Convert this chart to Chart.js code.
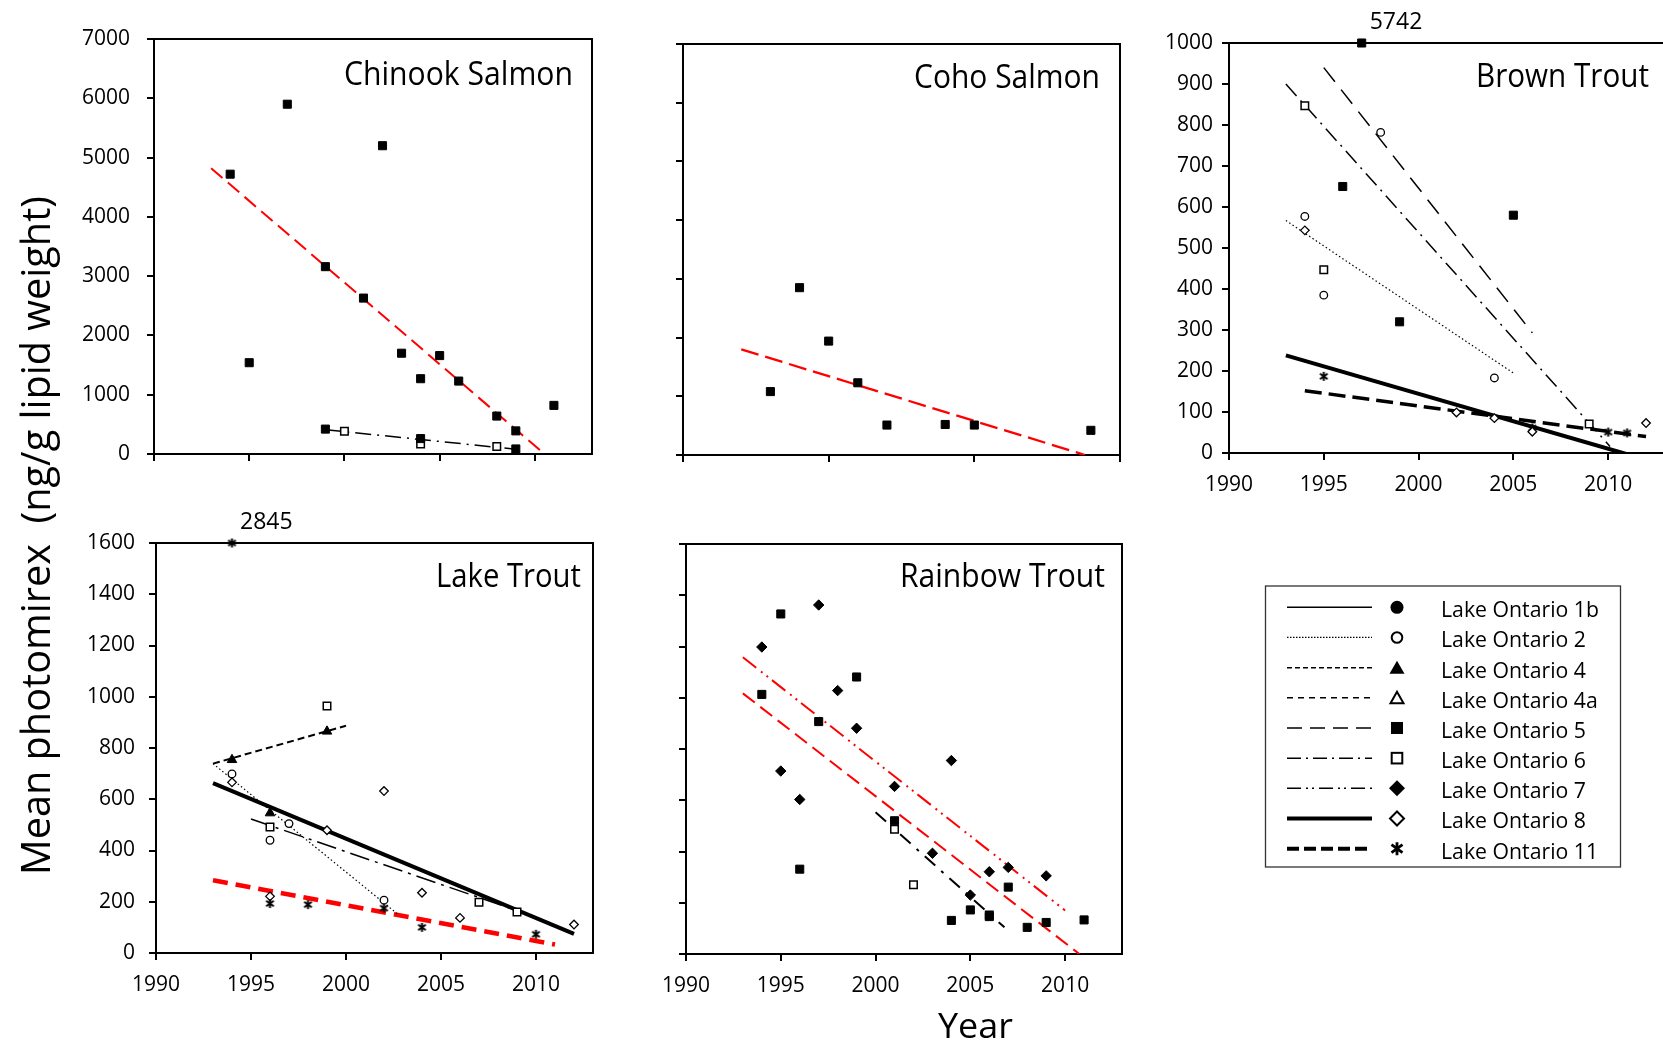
<!DOCTYPE html>
<html>
<head>
<meta charset="utf-8">
<title>Mean photomirex in Lake Ontario salmonids</title>
<script src="https://cdn.jsdelivr.net/npm/chart.js@4.4.1/dist/chart.umd.min.js"></script>
<style>
  html, body { margin: 0; padding: 0; background: #fff; }
  body { position: relative; width: 1663px; height: 1045px; overflow: hidden; }
  canvas.panel { position: absolute; z-index: 1; }
  #overlay { position: absolute; left: 0; top: 0; z-index: 2; pointer-events: none; }
</style>
</head>
<body>
<svg id="overlay" width="1663" height="1045" xmlns="http://www.w3.org/2000/svg"></svg>
<script>
const FONT = "'Open Sans', 'Noto Sans', sans-serif";

// ---- Chinook Salmon ----
const chinookYears5 = [1994, 1995, 1997, 1999, 2001, 2002, 2003, 2004, 2005, 2006, 2008, 2009, 2011];
const chinookVals5 = [4720, 1540, 5900, 3160, 2630, 5200, 1700, 1270, 1660, 1230, 640, 390, 820];
const chinookYears5b = [1999, 2004, 2009];
const chinookVals5b = [420, 260, 85];
const chinookYears6 = [2000, 2004, 2008];
const chinookVals6 = [385, 170, 125];
const chinookTrend5Years = [1993, 2010.5];
const chinookTrend5Vals = [4820, 0];
const chinookTrend6Years = [1999, 2009];
const chinookTrend6Vals = [410, 80];

// ---- Coho Salmon ----
const cohoYears5 = [1998, 1999, 2000, 2001, 2002, 2004, 2005, 2009];
const cohoVals5 = [1080, 2850, 1940, 1230, 510, 520, 510, 420];
const cohoTrend5Years = [1997, 2008.8];
const cohoTrend5Vals = [1800, 0];

// ---- Brown Trout ----
const brownYears5 = [1996, 1997, 1999, 2005];
const brownVals5 = [650, 5742, 320, 580];
const brownYears2 = [1994, 1995, 1998, 2004];
const brownVals2 = [577, 385, 782, 183];
const brownYears6 = [1994, 1995, 2009];
const brownVals6 = [847, 447, 71];
const brownYears8 = [1994, 2002, 2004, 2006, 2012];
const brownVals8 = [543, 99, 85, 52, 73];
const brownYears11 = [1995, 2006, 2010, 2011];
const brownVals11 = [187, 61, 51, 49];
const brownTrend5Years = [1995, 2006];
const brownTrend5Vals = [940, 293];
const brownTrend6Years = [1993, 2010.1];
const brownTrend6Vals = [900, 16];
const brownTrend2Years = [1993, 2005];
const brownTrend2Vals = [567, 195];
const brownTrend8Years = [1993, 2011];
const brownTrend8Vals = [238, -3];
const brownTrend11Years = [1994, 2012];
const brownTrend11Vals = [152, 40];

// ---- Lake Trout ----
const lakeYears11 = [1994, 1996, 1998, 2002, 2004, 2010];
const lakeVals11 = [2845, 193, 189, 175, 100, 73];
const lakeYears4 = [1994, 1996, 1999];
const lakeVals4 = [754, 546, 865];
const lakeYears2 = [1994, 1996, 1997, 2002];
const lakeVals2 = [699, 440, 505, 206];
const lakeYears6 = [1996, 1999, 2007, 2009];
const lakeVals6 = [492, 964, 198, 160];
const lakeYears8 = [1994, 1996, 1999, 2002, 2004, 2006, 2012];
const lakeVals8 = [666, 221, 479, 632, 235, 137, 111];
const lakeTrend4Years = [1993, 2000];
const lakeTrend4Vals = [739, 887];
const lakeTrend2Years = [1993, 2002.7];
const lakeTrend2Vals = [739, 153];
const lakeTrend6Years = [1995, 2010];
const lakeTrend6Vals = [523, 140];
const lakeTrend8Years = [1993, 2012];
const lakeTrend8Vals = [663, 75];
const lakeTrend11Years = [1993, 2011];
const lakeTrend11Vals = [284, 33];

// ---- Rainbow Trout ----
const rainbowYears5 = [1994, 1995, 1996, 1997, 1999, 2001, 2004, 2005, 2006, 2007, 2008, 2009, 2011];
const rainbowVals5 = [1013, 1327, 331, 907, 1081, 520, 131, 172, 146, 261, 104, 123, 133];
const rainbowYears7 = [1994, 1995, 1996, 1997, 1998, 1999, 2001, 2003, 2004, 2005, 2006, 2007, 2009];
const rainbowVals7 = [1198, 714, 603, 1362, 1028, 881, 654, 393, 755, 230, 321, 338, 305];
const rainbowYears6 = [2001, 2002, 2006];
const rainbowVals6 = [487, 270, 152];
const rainbowTrend5Years = [1993, 2010.75];
const rainbowTrend5Vals = [1017, 0];
const rainbowTrend7Years = [1993, 2010];
const rainbowTrend7Vals = [1158, 170];
const rainbowTrend6Years = [2000, 2006.8];
const rainbowTrend6Vals = [553, 104];

// ---- legend ----
const legendLabels = ['Lake Ontario 1b', 'Lake Ontario 2', 'Lake Ontario 4', 'Lake Ontario 4a',
  'Lake Ontario 5', 'Lake Ontario 6', 'Lake Ontario 7', 'Lake Ontario 8', 'Lake Ontario 11'];

// ---------- styles ----------
function asteriskCanvas(size, lw) {
  const c = document.createElement('canvas');
  c.width = size; c.height = size;
  const g = c.getContext('2d');
  const m = size / 2, a = size / 2 - 1;
  g.strokeStyle = '#000'; g.lineWidth = lw;
  g.beginPath();
  g.moveTo(m, m - a); g.lineTo(m, m + a);
  g.moveTo(m - a * 0.85, m - a * 0.6); g.lineTo(m + a * 0.85, m + a * 0.6);
  g.moveTo(m + a * 0.85, m - a * 0.6); g.lineTo(m - a * 0.85, m + a * 0.6);
  g.stroke();
  return c;
}
const astImg = asteriskCanvas(11, 2);

const MARKS = {
  sqF: { pointStyle: 'rect', pointRadius: 5.7, pointBackgroundColor: '#000', pointBorderColor: '#000', pointBorderWidth: 1 },
  sqO: { pointStyle: 'rect', pointRadius: 5.3, pointBackgroundColor: '#fff', pointBorderColor: '#000', pointBorderWidth: 1.5 },
  ciO: { pointStyle: 'circle', pointRadius: 3.8, pointBackgroundColor: '#fff', pointBorderColor: '#000', pointBorderWidth: 1.3 },
  triF: { pointStyle: 'triangle', pointRadius: 5.5, pointBackgroundColor: '#000', pointBorderColor: '#000', pointBorderWidth: 1 },
  diaO: { pointStyle: 'rectRot', pointRadius: 4.3, pointBackgroundColor: '#fff', pointBorderColor: '#000', pointBorderWidth: 1.3 },
  diaF: { pointStyle: 'rectRot', pointRadius: 5.2, pointBackgroundColor: '#000', pointBorderColor: '#000', pointBorderWidth: 1 },
  ast: { pointStyle: astImg, pointRadius: 5 }
};

const LINES = {
  lo2: { c: '#000', w: 1.2, d: [1.5, 2.5] },
  lo4: { c: '#000', w: 2, d: [7, 4] },
  lo5: { c: '#000', w: 1.5, d: [18, 10] },
  lo6: { c: '#000', w: 1.5, d: [16, 6, 2, 6] },
  lo8: { c: '#000', w: 4, d: [] },
  lo11: { c: '#000', w: 3.5, d: [17, 7] },
  red5: { c: '#ff0000', w: 2, d: [15, 7] },
  red7: { c: '#ff0000', w: 2, d: [17, 6, 2, 5, 2, 5] },
  red11: { c: '#ff0000', w: 4.5, d: [15, 8] }
};

function pts(xs, ys, mark, yMax) {
  return Object.assign({
    data: xs.map((x, i) => ({ x: x, y: Math.min(ys[i], yMax), actual: ys[i] })),
    showLine: false, clip: false
  }, MARKS[mark]);
}
function trend(xs, ys, kind) {
  const s = LINES[kind];
  return {
    data: xs.map((x, i) => ({ x: x, y: ys[i] })),
    showLine: true, pointRadius: 0, borderColor: s.c, borderWidth: s.w, borderDash: s.d,
    fill: false, tension: 0
  };
}

// ---------- panels ----------
const panels = [
  { rect: [154, 39, 592, 454], x: [1990, 2013, 5], y: [0, 7000, 1000], xLabels: false, yLabels: true, yPad: 17,
    sets: [
      pts(chinookYears5, chinookVals5, 'sqF', 7000),
      pts(chinookYears5b, chinookVals5b, 'sqF', 7000),
      pts(chinookYears6, chinookVals6, 'sqO', 7000),
      trend(chinookTrend5Years, chinookTrend5Vals, 'red5'),
      trend(chinookTrend6Years, chinookTrend6Vals, 'lo6')
    ] },
  { rect: [683, 44, 1120, 455], x: [1995, 2010, 5], y: [0, 7000, 1000], xLabels: false, yLabels: false, yPad: 17,
    sets: [
      pts(cohoYears5, cohoVals5, 'sqF', 7000),
      Object.assign(trend(cohoTrend5Years, cohoTrend5Vals, 'red5'), { borderWidth: 2.3, borderDash: [18, 7] })
    ] },
  { rect: [1229, 43, 1665, 453], x: [1990, 2013, 5], y: [0, 1000, 100], xLabels: true, yLabels: true, yPad: 9,
    sets: [
      pts(brownYears5, brownVals5, 'sqF', 1000),
      pts(brownYears2, brownVals2, 'ciO', 1000),
      pts(brownYears6, brownVals6, 'sqO', 1000),
      pts(brownYears8, brownVals8, 'diaO', 1000),
      pts(brownYears11, brownVals11, 'ast', 1000),
      trend(brownTrend5Years, brownTrend5Vals, 'lo5'),
      trend(brownTrend6Years, brownTrend6Vals, 'lo6'),
      trend(brownTrend2Years, brownTrend2Vals, 'lo2'),
      trend(brownTrend8Years, brownTrend8Vals, 'lo8'),
      trend(brownTrend11Years, brownTrend11Vals, 'lo11')
    ] },
  { rect: [156, 543, 593, 953], x: [1990, 2013, 5], y: [0, 1600, 200], xLabels: true, yLabels: true, yPad: 14,
    sets: [
      pts(lakeYears11, lakeVals11, 'ast', 1600),
      pts(lakeYears4, lakeVals4, 'triF', 1600),
      pts(lakeYears2, lakeVals2, 'ciO', 1600),
      pts(lakeYears6, lakeVals6, 'sqO', 1600),
      pts(lakeYears8, lakeVals8, 'diaO', 1600),
      trend(lakeTrend4Years, lakeTrend4Vals, 'lo4'),
      trend(lakeTrend2Years, lakeTrend2Vals, 'lo2'),
      Object.assign(trend(lakeTrend6Years, lakeTrend6Vals, 'lo6'), { borderDash: [20, 6, 3, 6] }),
      trend(lakeTrend8Years, lakeTrend8Vals, 'lo8'),
      trend(lakeTrend11Years, lakeTrend11Vals, 'red11')
    ] },
  { rect: [686, 544, 1122, 954], x: [1990, 2013, 5], y: [0, 1600, 200], xLabels: true, yLabels: false, yPad: 14,
    sets: [
      pts(rainbowYears5, rainbowVals5, 'sqF', 1600),
      pts(rainbowYears7, rainbowVals7, 'diaF', 1600),
      pts(rainbowYears6, rainbowVals6, 'sqO', 1600),
      trend(rainbowTrend5Years, rainbowTrend5Vals, 'red5'),
      trend(rainbowTrend7Years, rainbowTrend7Vals, 'red7'),
      Object.assign(trend(rainbowTrend6Years, rainbowTrend6Vals, 'lo6'), { borderWidth: 2, borderDash: [14, 8, 3, 8] })
    ] }
];

// frame around the plot area + labels for off-scale values
const framePlugin = {
  id: 'frame',
  beforeDatasetsDraw(chart) {
    const a = chart.chartArea, ctx = chart.ctx;
    ctx.save();
    ctx.strokeStyle = '#000';
    ctx.lineWidth = 2;
    ctx.strokeRect(a.left, a.top, a.right - a.left, a.bottom - a.top);
    ctx.restore();
  },
  afterDatasetsDraw(chart) {
    const ctx = chart.ctx;
    chart.data.datasets.forEach(ds => ds.data.forEach(d => {
      if (d.actual !== undefined && d.actual > d.y) {
        const px = chart.scales.x.getPixelForValue(d.x);
        const py = chart.scales.y.getPixelForValue(d.y);
        ctx.save();
        ctx.fillStyle = '#000';
        ctx.font = '23px ' + FONT;
        ctx.textAlign = 'left';
        ctx.textBaseline = 'middle';
        ctx.fillText(String(d.actual), px + 8, py - 21);
        ctx.restore();
      }
    }));
  }
};

const PL = 100, PT = 40, PR = 14, PB = 60;

function axis(min, max, step, showLabels, pad, isX) {
  return {
    type: 'linear', min: min, max: max,
    afterFit(s) { if (isX) s.height = PB; else s.width = PL; },
    ticks: {
      stepSize: step, includeBounds: false, display: showLabels, autoSkip: false, maxRotation: 0,
      color: '#000', padding: pad, font: { family: FONT, size: 21 },
      callback: v => String(v)
    },
    grid: { drawOnChartArea: false, drawTicks: true, tickLength: 7, color: '#000', lineWidth: 2 },
    border: { display: true, color: '#000', width: 2 }
  };
}

panels.forEach(p => {
  const [l, t, r, b] = p.rect;
  const w = r - l + PL + PR, h = b - t + PT + PB;
  const cv = document.createElement('canvas');
  cv.className = 'panel';
  cv.width = w; cv.height = h;
  cv.style.left = (l - PL) + 'px';
  cv.style.top = (t - PT) + 'px';
  cv.style.width = w + 'px';
  cv.style.height = h + 'px';
  document.body.appendChild(cv);
  new Chart(cv, {
    type: 'scatter',
    data: { datasets: p.sets },
    options: {
      responsive: false, animation: false, devicePixelRatio: 1,
      layout: { padding: { top: PT, right: PR, left: 0, bottom: 0 } },
      plugins: { legend: { display: false }, tooltip: { enabled: false } },
      scales: {
        x: axis(p.x[0], p.x[1], p.x[2], p.xLabels, 12, true),
        y: axis(p.y[0], p.y[1], p.y[2], p.yLabels, p.yPad, false)
      }
    },
    plugins: [framePlugin]
  });
});

// ---------- text + legend overlay ----------
const svg = document.getElementById('overlay');
const NS = 'http://www.w3.org/2000/svg';
function el(tag, attrs) {
  const e = document.createElementNS(NS, tag);
  for (const k in attrs) e.setAttribute(k, attrs[k]);
  svg.appendChild(e);
  return e;
}
function txt(str, attrs) {
  const t = el('text', Object.assign({ 'font-family': FONT, fill: '#000' }, attrs));
  t.textContent = str;
  return t;
}

// panel titles: [text, left, baseline, width]
const titles = [
  ['Chinook Salmon', 344, 85, 229],
  ['Coho Salmon', 914, 88, 186],
  ['Brown Trout', 1476, 87, 173],
  ['Lake Trout', 436, 587, 145],
  ['Rainbow Trout', 900, 587, 205]
];
titles.forEach(([s, x, y, w]) => txt(s, { x: x, y: y, 'font-size': 32, textLength: w, lengthAdjust: 'spacingAndGlyphs' }));

txt('Mean photomirex  (ng/g lipid weight)', {
  x: 0, y: 0, 'font-size': 41, transform: 'translate(50,875) rotate(-90)',
  textLength: 679, lengthAdjust: 'spacingAndGlyphs', style: 'white-space:pre'
});
txt('Year', { x: 938, y: 1038, 'font-size': 35, textLength: 75, lengthAdjust: 'spacingAndGlyphs' });

// legend
el('rect', { x: 1265.5, y: 586, width: 355, height: 281, fill: '#fff', stroke: '#333', 'stroke-width': 1.3 });
const legendLines = [
  { w: 1.5, d: '' }, { w: 1.2, d: '1.5 1.5' }, { w: 1.5, d: '5 3' }, { w: 1.5, d: '6 5' },
  { w: 1.5, d: '15 8' }, { w: 1.5, d: '14 5 2 5' }, { w: 1.5, d: '14 5 2 4 2 5' },
  { w: 4, d: '' }, { w: 4, d: '12 5' }
];
const legendMarks = ['ciF', 'ciO', 'triF', 'triO', 'sqF', 'sqO', 'diaF', 'diaO', 'ast'];
function mark(kind, cx, cy) {
  const k = '#000';
  if (kind === 'ciF') el('circle', { cx: cx, cy: cy, r: 6.5, fill: k });
  if (kind === 'ciO') el('circle', { cx: cx, cy: cy, r: 5.3, fill: '#fff', stroke: k, 'stroke-width': 2 });
  if (kind === 'triF') el('polygon', { points: `${cx},${cy - 7} ${cx - 7.5},${cy + 6} ${cx + 7.5},${cy + 6}`, fill: k });
  if (kind === 'triO') el('polygon', { points: `${cx},${cy - 6} ${cx - 6.5},${cy + 5.5} ${cx + 6.5},${cy + 5.5}`, fill: '#fff', stroke: k, 'stroke-width': 2 });
  if (kind === 'sqF') el('rect', { x: cx - 6, y: cy - 6, width: 12, height: 12, fill: k });
  if (kind === 'sqO') el('rect', { x: cx - 5.3, y: cy - 5.3, width: 10.6, height: 10.6, fill: '#fff', stroke: k, 'stroke-width': 2 });
  if (kind === 'diaF') el('polygon', { points: `${cx},${cy - 8} ${cx + 8},${cy} ${cx},${cy + 8} ${cx - 8},${cy}`, fill: k });
  if (kind === 'diaO') el('polygon', { points: `${cx},${cy - 7} ${cx + 7},${cy} ${cx},${cy + 7} ${cx - 7},${cy}`, fill: '#fff', stroke: k, 'stroke-width': 2 });
  if (kind === 'ast') {
    el('path', { d: `M${cx},${cy - 6.5}L${cx},${cy + 6.5}M${cx - 5.5},${cy - 4}L${cx + 5.5},${cy + 4}M${cx + 5.5},${cy - 4}L${cx - 5.5},${cy + 4}`,
      stroke: k, 'stroke-width': 2.8, fill: 'none' });
  }
}
const legendTexts = [];
legendLabels.forEach((lab, i) => {
  const cy = 607.3 + i * 30.17;
  const ls = legendLines[i];
  const ln = el('line', { x1: 1287, y1: cy, x2: 1372, y2: cy, stroke: '#000', 'stroke-width': ls.w });
  if (ls.d) ln.setAttribute('stroke-dasharray', ls.d);
  mark(legendMarks[i], 1397, cy);
  legendTexts.push(txt(lab, { x: 1441, y: cy + 10, 'font-size': 21 }));
});
const baseLen = legendTexts[0].getComputedTextLength();
const sx = 158 / baseLen;
legendTexts.forEach(t => {
  t.setAttribute('textLength', (t.getComputedTextLength() * sx).toFixed(1));
  t.setAttribute('lengthAdjust', 'spacingAndGlyphs');
});
</script>
</body>
</html>
